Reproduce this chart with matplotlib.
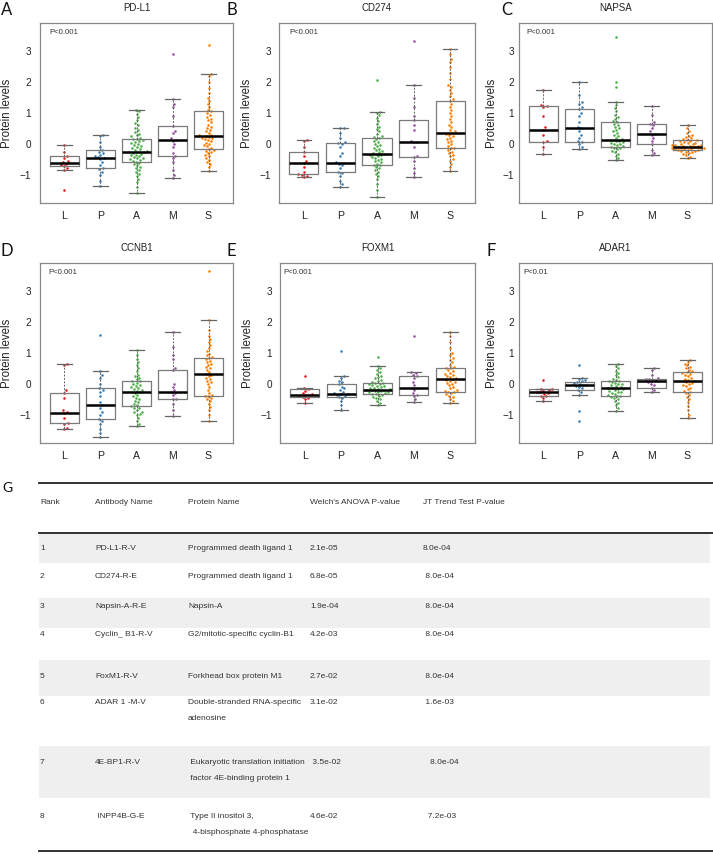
import numpy as np
import matplotlib.pyplot as plt

plt.rcParams['font.family'] = ['Liberation Sans', 'DejaVu Sans']

W, H = 713, 861

groups = ['L', 'P', 'A', 'M', 'S']
group_colors = ['#E41A1C', '#377EB8', '#4DAF4A', '#984EA3', '#FF7F00']

panel_titles = ['PD-L1', 'CD274', 'NAPSA', 'CCNB1', 'FOXM1', 'ADAR1']
panel_letters = ['A', 'B', 'C', 'D', 'E', 'F']
panel_pvals = ['P<0.001', 'P<0.001', 'P<0.001', 'P<0.001', 'P<0.001', 'P<0.01']

# box stats per group: whisker low, q1, median, q3, whisker high
pdl1_box = [[-0.85, -0.72, -0.62, -0.38, -0.03], [-1.38, -0.80, -0.45, -0.20, 0.30],
            [-1.58, -0.58, -0.25, 0.17, 1.10], [-1.10, -0.40, 0.12, 0.57, 1.45],
            [-0.88, -0.17, 0.25, 1.05, 2.25]]
cd274_box = [[-1.08, -0.98, -0.62, -0.25, 0.13], [-1.40, -0.93, -0.62, 0.02, 0.52],
             [-1.73, -0.68, -0.32, 0.20, 1.03], [-1.08, -0.43, 0.07, 0.78, 1.90],
             [-0.88, -0.13, 0.35, 1.40, 3.08]]
napsa_box = [[-0.33, 0.07, 0.45, 1.23, 1.75], [-0.18, 0.06, 0.50, 1.13, 2.02],
             [-0.52, -0.10, 0.12, 0.70, 1.36], [-0.37, -0.02, 0.33, 0.64, 1.23],
             [-0.47, -0.20, -0.10, 0.13, 0.60]]
ccnb1_box = [[-1.47, -1.27, -0.95, -0.30, 0.65], [-1.73, -1.13, -0.70, -0.15, 0.42],
             [-1.38, -0.73, -0.25, 0.10, 1.10], [-1.05, -0.48, -0.25, 0.45, 1.68],
             [-1.22, -0.38, 0.33, 0.85, 2.08]]
foxm1_box = [[-0.63, -0.42, -0.35, -0.18, -0.12], [-0.85, -0.42, -0.32, -0.02, 0.26],
             [-0.70, -0.32, -0.20, 0.04, 0.57], [-0.60, -0.35, -0.12, 0.25, 0.38],
             [-0.62, -0.25, 0.16, 0.52, 1.68]]
adar1_box = [[-0.57, -0.38, -0.28, -0.18, -0.17], [-0.35, -0.20, -0.05, 0.05, 0.20],
             [-0.88, -0.38, -0.15, 0.10, 0.65], [-0.28, -0.12, 0.10, 0.17, 0.50],
             [-1.10, -0.25, 0.08, 0.37, 0.78]]

# individual samples per group
pdl1_pts = [
    [-1.5, -0.85, -0.78, -0.72, -0.68, -0.64, -0.60, -0.55, -0.45, -0.38, -0.25, -0.03],
    [-1.38, -1.2, -1.0, -0.9, -0.82, -0.8, -0.7, -0.6, -0.5, -0.47, -0.43, -0.4, -0.35, -0.3,
     -0.25, -0.2, -0.1, 0.05, 0.25, 0.3],
    [-1.58, -1.4, -1.25, -1.15, -1.05, -0.98, -0.92, -0.85, -0.8, -0.75, -0.7, -0.66, -0.62,
     -0.58, -0.55, -0.52, -0.5, -0.47, -0.45, -0.42, -0.4, -0.37, -0.35, -0.32, -0.3, -0.28,
     -0.26, -0.25, -0.22, -0.2, -0.17, -0.14, -0.1, -0.07, -0.04, 0.0, 0.03, 0.06, 0.09, 0.12,
     0.15, 0.17, 0.2, 0.24, 0.28, 0.33, 0.38, 0.45, 0.52, 0.6, 0.68, 0.78, 0.88, 0.98, 1.05, 1.1],
    [-1.1, -1.0, -0.85, -0.6, -0.45, -0.4, -0.3, -0.1, 0.0, 0.1, 0.12, 0.2, 0.35, 0.4, 0.57,
     0.9, 1.2, 1.3, 1.45, 2.93],
    [-0.88, -0.75, -0.65, -0.6, -0.52, -0.45, -0.4, -0.35, -0.3, -0.27, -0.23, -0.2, -0.17,
     -0.12, -0.08, -0.04, 0.0, 0.04, 0.08, 0.12, 0.15, 0.18, 0.2, 0.22, 0.24, 0.25, 0.27, 0.3,
     0.35, 0.4, 0.45, 0.5, 0.55, 0.62, 0.7, 0.78, 0.82, 0.88, 0.95, 1.0, 1.05, 1.1, 1.2, 1.3,
     1.4, 1.5, 1.65, 1.8, 2.0, 2.2, 2.25, 3.2],
]
cd274_pts = [
    [-1.08, -1.05, -1.0, -0.98, -0.9, -0.75, -0.62, -0.55, -0.4, -0.25, -0.1, 0.1, 0.13],
    [-1.4, -1.3, -1.2, -1.05, -0.95, -0.93, -0.8, -0.7, -0.65, -0.62, -0.6, -0.4, -0.3, -0.1,
     0.0, 0.02, 0.05, 0.2, 0.35, 0.5, 0.52],
    [-1.73, -1.5, -1.3, -1.15, -1.05, -0.98, -0.9, -0.85, -0.8, -0.75, -0.7, -0.68, -0.64, -0.6,
     -0.56, -0.52, -0.48, -0.45, -0.42, -0.4, -0.37, -0.35, -0.33, -0.32, -0.3, -0.27, -0.24,
     -0.2, -0.16, -0.12, -0.08, -0.04, 0.0, 0.05, 0.1, 0.15, 0.2, 0.22, 0.26, 0.32, 0.4, 0.48,
     0.55, 0.65, 0.75, 0.85, 0.93, 1.0, 1.03, 2.08],
    [-1.08, -0.95, -0.8, -0.55, -0.43, -0.4, -0.1, 0.05, 0.07, 0.1, 0.45, 0.6, 0.78, 0.9, 1.2,
     1.5, 1.9, 3.33],
    [-0.88, -0.75, -0.65, -0.55, -0.48, -0.4, -0.35, -0.3, -0.25, -0.2, -0.15, -0.13, -0.08,
     -0.02, 0.05, 0.1, 0.15, 0.2, 0.25, 0.3, 0.33, 0.35, 0.4, 0.45, 0.55, 0.62, 0.7, 0.8, 0.9,
     1.0, 1.1, 1.2, 1.3, 1.4, 1.45, 1.55, 1.65, 1.75, 1.85, 1.9, 2.1, 2.3, 2.5, 2.65, 2.75, 2.9,
     3.08],
]
napsa_pts = [
    [-0.33, -0.1, 0.07, 0.1, 0.3, 0.45, 0.55, 0.9, 1.2, 1.23, 1.25, 1.75],
    [-0.18, -0.1, 0.0, 0.06, 0.1, 0.2, 0.3, 0.4, 0.5, 0.55, 0.7, 0.9, 1.0, 1.13, 1.2, 1.3,
     1.35, 1.6, 2.02],
    [-0.52, -0.45, -0.38, -0.32, -0.27, -0.22, -0.18, -0.15, -0.12, -0.1, -0.08, -0.05, -0.02,
     0.0, 0.03, 0.05, 0.08, 0.1, 0.12, 0.14, 0.17, 0.2, 0.25, 0.3, 0.35, 0.4, 0.45, 0.5, 0.55,
     0.6, 0.65, 0.7, 0.75, 0.8, 0.88, 0.95, 1.05, 1.15, 1.25, 1.36, 1.85, 2.0, 3.45],
    [-0.37, -0.3, -0.2, -0.02, 0.1, 0.2, 0.3, 0.33, 0.4, 0.5, 0.6, 0.64, 0.7, 0.95, 1.23],
    [-0.47, -0.42, -0.37, -0.33, -0.3, -0.28, -0.26, -0.24, -0.22, -0.21, -0.2, -0.19, -0.18,
     -0.17, -0.16, -0.15, -0.14, -0.13, -0.12, -0.11, -0.1, -0.09, -0.08, -0.07, -0.06, -0.05,
     -0.04, -0.03, -0.02, 0.0, 0.02, 0.04, 0.06, 0.08, 0.1, 0.12, 0.13, 0.15, 0.18, 0.22, 0.26,
     0.3, 0.35, 0.42, 0.5, 0.6],
]
ccnb1_pts = [
    [-1.47, -1.42, -1.3, -1.27, -1.1, -0.95, -0.9, -0.85, -0.45, -0.3, -0.2, 0.6, 0.65],
    [-1.73, -1.6, -1.45, -1.3, -1.2, -1.13, -1.0, -0.9, -0.8, -0.7, -0.6, -0.4, -0.25, -0.2,
     -0.15, 0.0, 0.2, 0.3, 0.42, 1.6],
    [-1.38, -1.3, -1.2, -1.1, -1.0, -0.97, -0.93, -0.9, -0.85, -0.8, -0.77, -0.73, -0.7, -0.65,
     -0.6, -0.55, -0.5, -0.45, -0.4, -0.35, -0.3, -0.27, -0.25, -0.22, -0.2, -0.17, -0.13, -0.1,
     -0.07, -0.04, 0.0, 0.04, 0.08, 0.1, 0.15, 0.2, 0.25, 0.3, 0.4, 0.5, 0.6, 0.7, 0.8, 0.95, 1.1],
    [-1.05, -0.85, -0.65, -0.5, -0.48, -0.35, -0.3, -0.25, -0.2, -0.1, 0.0, 0.45, 0.5, 0.8,
     0.95, 1.2, 1.68],
    [-1.22, -1.0, -0.85, -0.75, -0.65, -0.55, -0.5, -0.45, -0.4, -0.38, -0.35, -0.3, -0.2, -0.1,
     0.0, 0.05, 0.1, 0.15, 0.2, 0.25, 0.3, 0.33, 0.38, 0.45, 0.5, 0.55, 0.6, 0.65, 0.7, 0.75,
     0.8, 0.85, 0.88, 0.92, 0.98, 1.05, 1.15, 1.25, 1.35, 1.45, 1.55, 1.75, 2.08, 3.65],
]
foxm1_pts = [
    [-0.63, -0.5, -0.45, -0.42, -0.38, -0.36, -0.35, -0.32, -0.3, -0.22, -0.18, -0.12, 0.27],
    [-0.85, -0.7, -0.55, -0.45, -0.42, -0.38, -0.35, -0.33, -0.32, -0.3, -0.25, -0.2, -0.15,
     -0.1, -0.02, 0.05, 0.1, 0.2, 0.26, 1.08],
    [-0.7, -0.62, -0.55, -0.5, -0.45, -0.42, -0.38, -0.35, -0.33, -0.32, -0.3, -0.28, -0.27,
     -0.25, -0.24, -0.22, -0.21, -0.2, -0.19, -0.18, -0.16, -0.14, -0.12, -0.1, -0.08, -0.06,
     -0.04, -0.02, 0.0, 0.02, 0.04, 0.07, 0.1, 0.14, 0.18, 0.22, 0.27, 0.32, 0.38, 0.45, 0.5,
     0.57, 0.88],
    [-0.6, -0.5, -0.4, -0.35, -0.3, -0.2, -0.15, -0.12, -0.05, 0.05, 0.2, 0.25, 0.3, 0.35, 0.38,
     1.55],
    [-0.62, -0.55, -0.48, -0.42, -0.38, -0.33, -0.3, -0.27, -0.25, -0.23, -0.2, -0.15, -0.1,
     -0.05, 0.0, 0.03, 0.06, 0.1, 0.13, 0.16, 0.18, 0.22, 0.25, 0.28, 0.32, 0.36, 0.4, 0.45, 0.5,
     0.52, 0.56, 0.62, 0.7, 0.78, 0.85, 0.92, 1.0, 1.15, 1.35, 1.55, 1.68],
]
adar1_pts = [
    [-0.57, -0.45, -0.4, -0.38, -0.33, -0.3, -0.28, -0.25, -0.22, -0.2, -0.18, -0.17, 0.13],
    [-1.2, -0.87, -0.35, -0.25, -0.2, -0.15, -0.1, -0.07, -0.05, -0.03, 0.0, 0.02, 0.05, 0.08,
     0.12, 0.15, 0.2, 0.6],
    [-0.88, -0.8, -0.7, -0.62, -0.55, -0.5, -0.45, -0.42, -0.4, -0.38, -0.35, -0.32, -0.3,
     -0.27, -0.25, -0.22, -0.2, -0.18, -0.16, -0.15, -0.13, -0.1, -0.08, -0.05, -0.02, 0.0,
     0.03, 0.06, 0.08, 0.1, 0.13, 0.17, 0.22, 0.28, 0.35, 0.42, 0.5, 0.58, 0.65],
    [-0.28, -0.2, -0.12, -0.05, 0.0, 0.05, 0.1, 0.12, 0.15, 0.17, 0.2, 0.3, 0.45, 0.5],
    [-1.1, -1.0, -0.85, -0.72, -0.6, -0.5, -0.42, -0.35, -0.3, -0.25, -0.22, -0.18, -0.12,
     -0.08, -0.04, 0.0, 0.03, 0.06, 0.08, 0.1, 0.13, 0.17, 0.2, 0.24, 0.28, 0.32, 0.35, 0.37,
     0.4, 0.45, 0.5, 0.55, 0.6, 0.65, 0.72, 0.78],
]

panel_boxes = [pdl1_box, cd274_box, napsa_box, ccnb1_box, foxm1_box, adar1_box]
panel_points = [pdl1_pts, cd274_pts, napsa_pts, ccnb1_pts, foxm1_pts, adar1_pts]

# table G
headers = ['Rank', 'Antibody Name', 'Protein Name', "Welch's ANOVA P-value", 'JT Trend Test P-value']
ranks = ['1', '2', '3', '4', '5', '6', '7', '8']
antibodies = ['PD-L1-R-V', 'CD274-R-E', 'Napsin-A-R-E', 'Cyclin_ B1-R-V', 'FoxM1-R-V',
              'ADAR 1 -M-V', '4E-BP1-R-V', ' INPP4B-G-E']
proteins = ['Programmed death ligand 1', 'Programmed death ligand 1', 'Napsin-A',
            'G2/mitotic-specific cyclin-B1', 'Forkhead box protein M1',
            'Double-stranded RNA-specific\nadenosine',
            ' Eukaryotic translation initiation\n factor 4E-binding protein 1',
            ' Type II inositol 3,\n  4-bisphosphate 4-phosphatase']
welch_p = ['2.1e-05', '6.8e-05', '1.9e-04', '4.2e-03', '2.7e-02', '3.1e-02', ' 3.5e-02', '4.6e-02']
jt_p = ['8.0e-04', ' 8.0e-04', ' 8.0e-04', ' 8.0e-04', ' 8.0e-04', ' 1.6e-03', '   8.0e-04', '  7.2e-03']


def swarm_offsets(vals, ypx, d):
    """simple beeswarm: place each point as close to the centre as possible"""
    order = np.argsort(vals, kind='stable')
    xs = np.zeros(len(vals))
    placed = []
    for i in order:
        y = vals[i] * ypx
        cands = [0.0]
        near = []
        for px, py in placed:
            dy = y - py
            if abs(dy) < d:
                dx = np.sqrt(d * d - dy * dy)
                cands += [px + dx, px - dx]
                near.append((px, py))
        cands.sort(key=abs)
        for c in cands:
            if all((c - px) ** 2 + (y - py) ** 2 >= d * d - 1e-6 for px, py in near):
                break
        xs[i] = c
        placed.append((c, y))
    return xs


fig = plt.figure(figsize=(W / 100, H / 100), dpi=100)

# background axes in pixel units for letters and the table
bg = fig.add_axes([0, 0, 1, 1])
bg.set_xlim(0, W)
bg.set_ylim(H, 0)
bg.axis('off')

rects = [(40, 23, 193, 180), (279, 23, 196, 180), (519, 23, 193, 180),
         (40, 263, 193, 180), (280, 263, 195, 180), (519, 263, 193, 180)]
letter_pos = [(1, 10), (227, 10), (501, 10), (1, 251), (227, 251), (487, 251)]
ylab_off = [-33, -32, -27]
tick_pad = [9, 8, 5]
pval_off = [9, 10, 7, 8, 3, 4]

xlim = (0.32, 5.68)
ylim = (-1.92, 3.92)

for k in range(6):
    x0, y0, w, h = rects[k]
    ax = fig.add_axes([x0 / W, 1 - (y0 + h) / H, w / W, h / H])
    ax.set_xlim(*xlim)
    ax.set_ylim(*ylim)
    col = k % 3
    xpx = w / (xlim[1] - xlim[0])
    ypx = h / (ylim[1] - ylim[0])

    stats = []
    for b in panel_boxes[k]:
        stats.append({'whislo': b[0], 'q1': b[1], 'med': b[2], 'q3': b[3], 'whishi': b[4], 'fliers': []})
    ax.bxp(stats, positions=range(1, 6), widths=0.8, capwidths=0.4, showfliers=False,
           boxprops=dict(color='#7a7a7a', lw=0.9),
           medianprops=dict(color='black', lw=1.8, solid_capstyle='butt'),
           whiskerprops=dict(color='#666666', lw=0.7, linestyle=(0, (2, 1.5))),
           capprops=dict(color='#666666', lw=0.9), zorder=3)

    for g in range(5):
        vals = np.array(panel_points[k][g])
        offs = swarm_offsets(vals, ypx, 3.3) / xpx
        ax.scatter(g + 1 + offs, vals, s=3.4, color=group_colors[g], linewidths=0, zorder=2)

    for sp in ax.spines.values():
        sp.set_color('#888888')
        sp.set_linewidth(0.9)
    ax.set_xticks(range(1, 6))
    ax.set_xticklabels(groups)
    ax.set_yticks([-1, 0, 1, 2, 3])
    ax.tick_params(axis='both', length=0, colors='#222222')
    ax.tick_params(axis='y', pad=tick_pad[col] * 0.72, labelsize=7.2)
    ax.tick_params(axis='x', pad=6, labelsize=7.6)

    ax.text(ylab_off[col] / w, 0.5, 'Protein levels', transform=ax.transAxes, rotation=90,
            ha='center', va='center', fontsize=8.3, color='#222222')
    ax.text(0.5, 1 + 15 / h, panel_titles[k], transform=ax.transAxes, ha='center', va='center',
            fontsize=7, color='#222222')
    ax.text(pval_off[k] / w, 1 - 10 / h, panel_pvals[k], transform=ax.transAxes, ha='left',
            va='center', fontsize=5.6, color='#333333')

    lx, ly = letter_pos[k]
    bg.text(lx, ly, panel_letters[k], ha='left', va='center', fontsize=12, family='Lato',
            color='#111111')

# ---- table
bg.text(2, 488, 'G', ha='left', va='center', fontsize=10, family='Lato', color='#111111')
col_x = [40, 95, 188, 310, 423]
tfont = dict(fontsize=6.0, color='#333333')

line_top, head_bot = 483, 533
row_bounds = [533, 563, 598, 628, 660, 696, 746, 798, 851]
text_y = [549, 577, 607, 635, 677, 703, 763, 817]
line_gap = 16

bg.plot([39, 713], [line_top, line_top], color='#222222', lw=1.3)
for c in range(5):
    bg.text(col_x[c], 502, headers[c], ha='left', va='center', **tfont)
bg.plot([39, 713], [head_bot, head_bot], color='#222222', lw=1.3)

for r in range(len(ranks)):
    if r % 2 == 0:
        bg.fill_between([39, 710], row_bounds[r], row_bounds[r + 1], color='#efefef', lw=0, zorder=0)
    cells = [ranks[r], antibodies[r], proteins[r], welch_p[r], jt_p[r]]
    for c in range(5):
        for li, part in enumerate(cells[c].split('\n')):
            bg.text(col_x[c], text_y[r] + li * line_gap, part, ha='left', va='center', **tfont)
bg.plot([39, 713], [row_bounds[-1], row_bounds[-1]], color='#222222', lw=1.3)

fig.savefig('out.png', dpi=100)
